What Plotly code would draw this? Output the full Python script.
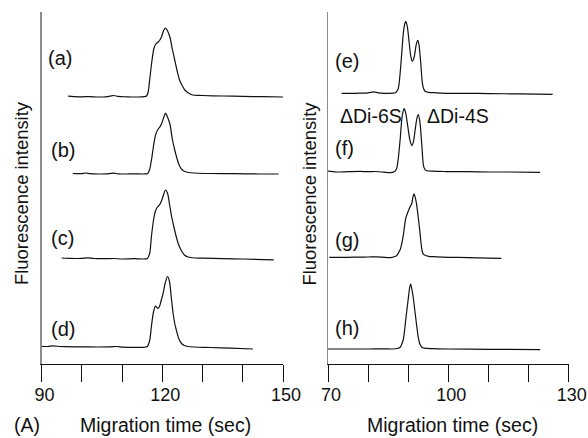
import plotly.graph_objects as go

# ---------------- data ----------------
# Panel A : migration time (sec) and fluorescence intensity (arb. units)
t_a = [96.6, 98, 100, 102, 104, 106, 107, 108, 109, 111, 114, 115.5, 116.1, 116.5, 116.9, 117.4, 117.9, 118.4, 119.0, 119.4,
       119.8, 120.4, 120.8, 121.2, 121.9, 122.5, 123.1, 123.7, 124.3, 125.0, 125.6, 126.5, 127.6, 130, 135, 140, 145, 150.2]
i_a = [0.8, 0.3, 0.2, 0.4, 0, 0.2, 0.8, 1.5, 0.6, 0.2, 0, 0.3, 1, 5, 18, 35, 48, 53, 55, 57,
       60, 67, 69, 67, 60, 48, 37, 26, 17, 11, 7, 4, 2, 1.5, 1, 0.6, 0.3, 0]

t_b = [97.8, 99, 100, 101, 102, 104, 106, 108, 109, 111, 113, 115.5, 116.4, 116.9, 117.4, 117.9, 118.4, 119.0, 119.4, 119.8,
       120.4, 120.8, 121.2, 121.9, 122.5, 123.1, 123.7, 124.3, 125.0, 125.6, 126.5, 128, 132, 138, 144, 148.9]
i_b = [0.5, 0.3, 0.4, 1, 0.4, 0, 0.2, 0.8, 0.2, 0, 0.2, 0, 0.5, 5, 16, 30, 40, 45, 47, 50,
       57, 61, 58, 50, 35, 24, 15, 8, 4, 2.5, 1.5, 1, 0.5, 0.3, 0, 0]

t_c = [95, 97, 99, 100, 101.5, 103, 106, 108, 110, 113, 115.5, 116.3, 116.9, 117.3, 117.8, 118.3, 118.8, 119.3, 119.8, 120.3,
       120.8, 121.3, 121.8, 122.3, 122.9, 123.5, 124.1, 124.8, 125.5, 126.4, 128, 130, 135, 140, 147.7]
i_c = [1, 0.6, 0.5, 0.6, 1.2, 0.5, 0.3, 0.5, 0, 0.3, 0, 0.5, 6, 22, 38, 48, 52, 54, 58, 64,
       69, 66, 55, 43, 32, 22, 14, 8, 4, 2, 1, 0.8, 0.3, 0, -0.8]

t_d = [90, 91.5, 93, 94.5, 96, 100, 104, 107, 108.7, 110, 113, 115.5, 116.3, 116.9, 117.3, 117.8, 118.3, 118.7, 119.0, 119.4,
       119.8, 120.2, 120.7, 121.3, 121.8, 122.2, 122.7, 123.1, 123.5, 124.1, 124.8, 125.5, 126.4, 128, 132, 137, 142.5]
i_d = [1.2, 1, 1.6, 1, 0.8, 0.6, 0.5, 0.6, 1, 0.4, 0.2, 0.2, 1, 7.5, 21, 35, 41.5, 40, 39, 42,
       48, 54, 64, 71, 66, 52, 34, 24, 17.5, 9, 4, 2, 1, 0.5, 0, -0.7, -1.5]

# Panel B
t_e = [73.4, 76, 78, 80, 81.5, 82.5, 84, 86, 86.8, 87.5, 88.0, 88.4, 88.8, 89.1, 89.4, 89.8, 90.3, 90.6, 91.0, 91.4,
       91.7, 92.0, 92.4, 92.7, 93.1, 93.5, 93.8, 94.2, 95, 97, 100, 105, 110, 118, 126]
i_e = [0, 0, 0.2, 0.5, 1.5, 0.5, 0, 0.2, 0.5, 4.6, 21, 41, 61, 69, 72, 66, 48, 38, 32, 35,
       41, 49, 53, 48, 31, 11, 5, 2, 1, 0.5, 0, 0, -0.3, -0.6, -1]

t_f = [70, 72, 75, 78, 80, 82, 84, 85.5, 86.5, 87.1, 87.5, 88.0, 88.4, 88.7, 89.0, 89.4, 89.9, 90.4, 90.9, 91.3,
       91.8, 92.2, 92.5, 92.9, 93.4, 93.8, 94.2, 94.6, 96, 98, 100, 105, 110, 115, 122.9]
i_f = [0.5, -0.3, 0, 0.3, 0, 0.2, -0.5, -1, 0, 3, 12.6, 33, 52.6, 60, 63, 58, 45, 32, 26, 30,
       44, 54, 57, 50, 26, 6, 2, 1, 0.5, 0.3, 0, 0, -0.3, -0.3, -0.6]

t_g = [70.3, 72, 75, 78, 80, 82, 84, 85.2, 86.0, 86.5, 87.1, 88.0, 88.4, 88.8, 89.1, 89.4, 90.0, 90.4, 90.9, 91.15,
       91.45, 91.8, 92.1, 92.8, 93.4, 93.7, 94.2, 95, 97, 100, 105, 110, 113.2]
i_g = [0, 0, 0, 0.2, 0.3, 0.5, 0, -0.3, 0, 0.5, 1.7, 7.7, 14, 22.7, 32, 39.4, 46, 50, 54, 60,
       63.4, 59, 52.7, 29.4, 7.7, 3.5, 2, 1, 0.5, 0, -0.3, -0.8, -1]

t_h = [70, 75, 80, 84, 86, 87.3, 88.0, 88.4, 88.8, 89.1, 89.4, 90.0, 90.3, 90.6, 90.9, 91.3, 91.6, 91.9, 92.5, 92.9,
       93.4, 94, 96, 100, 110, 122.9]
i_h = [0, 0, 0, 0.2, 0, 0.5, 1.7, 5, 10, 19, 30, 50, 60, 65, 60, 50, 40, 30, 11.6, 5,
       1.7, 0.8, 0.3, 0, -0.3, -0.6]

labels_left = ["(a)", "(b)", "(c)", "(d)"]
labels_right = ["(e)", "(f)", "(g)", "(h)"]
peak_names = ["\u0394Di-6S", "\u0394Di-4S"]

ticks_left = [90, 100, 110, 120, 130, 140, 150]
ticktext_left = ["90", "", "", "120", "", "", "150"]
ticks_right = [70, 80, 90, 100, 110, 120, 130]
ticktext_right = ["70", "", "", "100", "", "", "130"]

# vertical stacking offsets of the traces
offsets_left = [267, 190, 105, 16.5]
offsets_right = [270.7, 192.3, 106.7, 15]

# ---------------- figure ----------------
W, H = 588, 438
FONT = "Liberation Sans, Arial, Helvetica, sans-serif"
FS = 19
LINE = dict(color="#111111", width=1.2, shape="spline", smoothing=0.7)

fig = go.Figure()
left_series = [(t_a, i_a), (t_b, i_b), (t_c, i_c), (t_d, i_d)]
right_series = [(t_e, i_e), (t_f, i_f), (t_g, i_g), (t_h, i_h)]
for (t, v), off in zip(left_series, offsets_left):
    fig.add_trace(go.Scatter(x=t, y=[off + s for s in v], mode="lines", line=LINE,
                             xaxis="x", yaxis="y", showlegend=False, hoverinfo="skip"))
for (t, v), off in zip(right_series, offsets_right):
    fig.add_trace(go.Scatter(x=t, y=[off + s for s in v], mode="lines", line=LINE,
                             xaxis="x2", yaxis="y2", showlegend=False, hoverinfo="skip"))

ML, MT, MB = 0, 12, 74
plot_h = H - MT - MB

xcommon = dict(showline=True, linecolor="#111111", linewidth=1, ticks="outside", ticklen=17,
               tickwidth=1, tickcolor="#111111", showgrid=False, zeroline=False,
               tickfont=dict(family=FONT, size=18, color="#111111"), automargin=False,
               ticklabelstandoff=-3, ticklabelshift=3, fixedrange=True)
ycommon = dict(showline=True, linecolor="#8c8c8c", linewidth=1.5, ticks="", showticklabels=False,
               showgrid=False, zeroline=False, range=[0, plot_h], domain=[0, 1], fixedrange=True,
               automargin=False)

fig.update_layout(
    template="none",
    width=W, height=H, autosize=False,
    margin=dict(l=ML, r=0, t=MT, b=MB, pad=0, autoexpand=False),
    paper_bgcolor="white", plot_bgcolor="white",
    font=dict(family=FONT, size=FS, color="#111111"),
    xaxis=dict(domain=[41.5 / W, 283 / W], range=[90, 150], tickvals=ticks_left,
               ticktext=ticktext_left, anchor="y", **xcommon),
    yaxis=dict(anchor="x", **ycommon),
    xaxis2=dict(domain=[328 / W, 568.7 / W], range=[70, 130], tickvals=ticks_right,
                ticktext=ticktext_right, anchor="y2", **xcommon),
    yaxis2=dict(anchor="x2", **ycommon),
)

ann = []
lab_y_left = [306, 214.5, 126, 35.5]
lab_x_left = [91.1, 91.9, 91.9, 91.9]
for txt, xx, yy in zip(labels_left, lab_x_left, lab_y_left):
    ann.append(dict(text=txt, x=xx, y=yy, xref="x", yref="y", xanchor="left", yanchor="middle",
                    showarrow=False, font=dict(size=20)))
lab_y_right = [303, 216, 124, 36]
for txt, yy in zip(labels_right, lab_y_right):
    ann.append(dict(text=txt, x=71.25, y=yy, xref="x2", yref="y2", xanchor="left", yanchor="middle",
                    showarrow=False, font=dict(size=20)))
for txt, xx in zip(peak_names, [80.6, 102.5]):
    ann.append(dict(text=txt, x=xx, y=248, xref="x2", yref="y2", xanchor="center", yanchor="middle",
                    showarrow=False, font=dict(size=19.5)))


def py(p):
    return (H - MB - p) / plot_h


for xc in [21.5 / W, 309 / W]:
    ann.append(dict(text="Fluorescence intensity", x=xc, y=py(193.5), xref="paper", yref="paper",
                    textangle=-90, xanchor="center", yanchor="middle", showarrow=False,
                    font=dict(size=18.4)))
for xc in [165.5 / W, 452.7 / W]:
    ann.append(dict(text="Migration time (sec)", x=xc, y=py(425), xref="paper", yref="paper",
                    xanchor="center", yanchor="middle", showarrow=False, font=dict(size=19.5)))
ann.append(dict(text="(A)", x=26.5 / W, y=py(425), xref="paper", yref="paper",
                xanchor="center", yanchor="middle", showarrow=False, font=dict(size=19.5)))

fig.update_layout(annotations=ann)
fig.write_html("out.html", config={"displayModeBar": False, "staticPlot": True},
               post_script="document.body.style.margin='0';document.body.style.padding='0';"
                           "document.body.style.overflow='hidden';")
